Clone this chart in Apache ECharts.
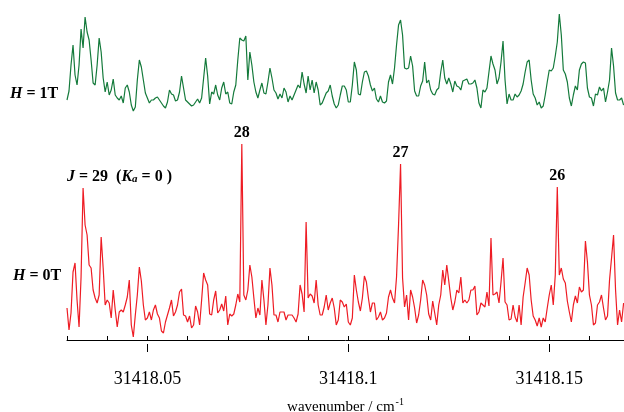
<!DOCTYPE html>
<html>
<head>
<meta charset="utf-8">
<script src="https://cdn.jsdelivr.net/npm/echarts@6/dist/echarts.min.js"></script>
<style>
  html, body { margin: 0; background: #fff; }
  #main { width: 624px; height: 412px; }
</style>
</head>
<body>
<div id="main"></div>
<script>
// spectra sampled every 0.0005 cm-1 starting at 31418.030
var wnStart = 31418.03;
var wnStep = 0.0005;

// H = 1T trace (arbitrary intensity units)
var h1T = [
  15,24,50,70,40,30,50,86,67,98, 83,75,55,32,30,50,77,63,37,23,
  33,20,25,36,20,17,15,19,12,27, 30,23,10,4,8,35,55,48,35,22,
  17,12,15,15,17,18,15,12,9,7, 13,25,21,20,14,15,23,39,27,15,
  13,11,9,10,13,16,12,17,37,57, 39,11,23,21,30,20,15,27,33,21,
  23,12,11,23,30,55,77,75,74,79, 35,63,50,33,23,17,25,32,22,21,
  33,47,37,25,22,16,21,17,27,23, 13,19,15,20,25,30,27,43,31,22,
  39,25,35,22,33,25,10,12,17,22, 24,30,19,11,7,10,20,29,29,25,
  13,13,30,53,45,21,20,33,43,44, 39,30,24,27,16,13,19,13,12,14,
  33,40,31,47,70,90,95,80,47,46, 47,59,49,24,19,19,29,34,53,32,
  35,25,21,20,25,27,43,55,37,31, 37,31,23,34,29,28,25,34,35,36,
  31,31,32,35,27,12,7,25,23,27, 43,59,51,45,31,37,53,74,35,11,
  21,15,15,21,18,20,24,31,43,53, 55,35,21,17,10,13,7,9,20,33,
  45,44,47,59,73,101,80,45,41,33, 17,9,20,29,25,45,51,53,52,27,
  18,17,9,21,20,28,24,27,13,23, 35,67,49,22,15,15,17,10
];

// H = 0T trace
var h0T = [
  32,10,27,68,77,40,13,63,152,115, 105,75,72,50,42,37,45,103,72,35,
  40,37,22,50,30,13,28,30,28,35, 43,60,15,3,25,45,73,59,35,20,
  22,28,20,30,35,26,22,9,7,18, 25,32,40,24,28,35,48,51,25,24,
  18,24,12,15,34,28,15,40,67,60, 55,26,25,40,49,27,30,36,29,44,
  15,26,24,26,35,46,38,196,45,40, 50,75,63,42,22,32,25,60,40,15,
  35,72,55,25,25,18,28,28,28,20, 25,25,25,22,18,26,55,46,28,118,
  42,46,44,37,60,35,25,25,33,45, 30,37,42,32,15,20,40,38,33,36,
  18,15,22,65,50,38,29,42,64,58, 42,28,37,37,20,23,28,20,22,27,
  43,50,42,37,63,115,176,62,33,45, 20,50,43,32,17,25,40,60,55,45,
  26,20,39,27,15,35,45,70,55,75, 59,42,30,38,50,47,63,37,40,37,
  40,50,50,54,25,28,37,35,33,48, 34,102,45,46,48,37,58,82,38,35,
  20,21,35,23,18,35,15,43,57,72, 65,40,24,20,14,22,13,22,18,32,
  45,55,35,65,153,65,72,61,57,39, 28,18,35,44,37,53,48,50,99,78,
  45,35,15,17,35,38,45,32,20,24, 60,82,105,50,15,30,18,37
];

var offset1T = 225; // vertical shift of the 1T trace

// assigned lines in the 0T trace
var peakIndex = [87, 166, 244];
var peakText = ['28', '27', '26'];

var xMin = 31418.03, xMax = 31418.1686;
var minorTicks = [31418.03, 31418.04, 31418.05, 31418.06, 31418.07, 31418.08, 31418.09,
                  31418.1, 31418.11, 31418.12, 31418.13, 31418.14, 31418.15, 31418.16];
var majorTicks = [31418.05, 31418.1, 31418.15];

var serif = '"Liberation Serif", "Times New Roman", serif';

function wn(i) { return +(wnStart + i * wnStep).toFixed(4); }

var data1T = h1T.map(function (v, i) { return [wn(i), v + offset1T]; });
var data0T = h0T.map(function (v, i) { return [wn(i), v]; });
var peakMarks = peakIndex.map(function (k, j) {
  return { name: peakText[j], coord: [wn(k), h0T[k]] };
});

var richLbl = {
  i: { fontFamily: serif, fontSize: 16, fontWeight: 'bold', fontStyle: 'italic', fill: '#000', verticalAlign: 'bottom', lineHeight: 18 },
  n: { fontFamily: serif, fontSize: 16, fontWeight: 'bold', fill: '#000', verticalAlign: 'bottom', lineHeight: 18 },
  s: { fontFamily: serif, fontSize: 11, fontWeight: 'bold', fontStyle: 'italic', fill: '#000', verticalAlign: 'bottom', lineHeight: 15 }
};

var chart = echarts.init(document.getElementById('main'));
chart.setOption({
  animation: false,
  backgroundColor: '#fff',
  grid: { left: 67, right: 0, top: 0, bottom: 60, containLabel: false, outerBoundsMode: 'none' },
  xAxis: [{
    type: 'value', min: xMin, max: xMax, position: 'bottom',
    axisLine: { show: true, lineStyle: { color: '#000', width: 1 } },
    axisTick: { show: true, inside: true, length: 4, customValues: minorTicks, lineStyle: { color: '#000' } },
    axisLabel: {
      show: true, customValues: majorTicks, margin: 18, color: '#000',
      fontFamily: serif, fontSize: 18,
      formatter: function (v) { return String(+(+v).toFixed(2)); }
    },
    splitLine: { show: false },
    name: 'wavenumber / cm{sup|-1}',
    nameLocation: 'middle', nameGap: 45,
    nameTextStyle: {
      fontFamily: serif, fontSize: 15, color: '#000',
      rich: { sup: { fontFamily: serif, fontSize: 10, color: '#000', verticalAlign: 'top', padding: [0, 0, 10, 1] } }
    }
  }, {
    type: 'value', min: xMin, max: xMax, position: 'bottom',
    axisLine: { show: false },
    axisTick: { show: true, inside: true, length: 8, customValues: majorTicks, lineStyle: { color: '#000' } },
    axisLabel: { show: false },
    splitLine: { show: false }
  }],
  yAxis: { type: 'value', min: -12, max: 340, show: false },
  series: [{
    name: 'H = 1T', type: 'line', xAxisIndex: 0, data: data1T,
    showSymbol: false, lineStyle: { color: '#147a3b', width: 1.2 }, itemStyle: { color: '#147a3b' }
  }, {
    name: 'H = 0T', type: 'line', xAxisIndex: 0, data: data0T,
    showSymbol: false, lineStyle: { color: '#ee1c24', width: 1.2 }, itemStyle: { color: '#ee1c24' },
    markPoint: {
      symbol: 'circle', symbolSize: 0,
      label: { show: true, position: 'top', distance: 3, formatter: '{b}', color: '#000',
               fontFamily: serif, fontSize: 16, fontWeight: 'bold' },
      data: peakMarks
    }
  }],
  graphic: [{
    type: 'text', left: 10, top: 86,
    style: { text: '{i|H}{n| = 1T}', rich: richLbl }
  }, {
    type: 'text', left: 13, top: 268,
    style: { text: '{i|H}{n| = 0T}', rich: richLbl }
  }, {
    type: 'text', left: 67, top: 169,
    style: { text: '{i|J}{n| = 29  (}{i|K}{s|a}{n| = 0 )}', rich: richLbl }
  }]
});
</script>
</body>
</html>
